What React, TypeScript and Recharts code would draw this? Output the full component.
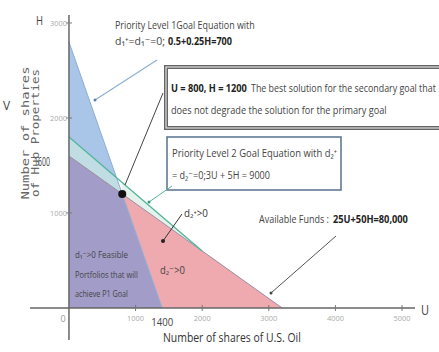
import { useLayoutEffect, useRef, useState } from 'react'
import { Area, ComposedChart, Line, ReferenceDot, ReferenceLine, XAxis, YAxis } from 'recharts'

// region vertices (U, [low H, high H])
const purpleRegion = [
  { U: 0, H: [0, 1600] },
  { U: 800, H: [0, 1200] },
  { U: 1400, H: [0, 0] },
]
const redRegion = [
  { U: 800, H: [1200, 1200] },
  { U: 1400, H: [0, 900] },
  { U: 3200, H: [0, 0] },
]
const blueRegion = [
  { U: 0, H: [1800, 2800] },
  { U: 714, H: [1371, 1371] },
]
const tealBand = [
  { U: 0, H: [1600, 1800] },
  { U: 714, H: [1243, 1371] },
  { U: 800, H: [1200, 1200] },
]
const greenBand = [
  { U: 800, H: [1200, 1320] },
  { U: 2000, H: [600, 600] },
]

// goal / constraint lines
const p1Line = [
  { U: 0, H: 2800 },
  { U: 1400, H: 0 },
]
const fundsLine = [
  { U: 0, H: 1600 },
  { U: 3200, H: 0 },
]
const p2Line = [
  { U: 0, H: 1800 },
  { U: 2000, H: 600 },
]

const xTicks = [1000, 2000, 3000, 4000, 5000]
const yTicks = [1000, 2000, 3000]
const bestU = 800
const bestH = 1200

const font = "'Open Sans', 'DejaVu Sans', sans-serif"

// squeezes a text horizontally to a given width (the picture uses a narrow font)
function Fit({ x, y, w, size = 11, bold = false, fill = '#444', anchor = 'start', children }: any) {
  const ref = useRef<SVGTextElement>(null)
  const [k, setK] = useState(1)
  useLayoutEffect(() => {
    if (ref.current) {
      const n = ref.current.getComputedTextLength()
      if (n > 0) setK(w / n)
    }
  }, [w])
  return (
    <g transform={`translate(${x},${y}) scale(${k},1)`}>
      <text ref={ref} x={0} y={0} fontSize={size} fontWeight={bold ? 'bold' : 'normal'} fill={fill} textAnchor={anchor} fontFamily={font}>
        {children}
      </text>
    </g>
  )
}

const XTick = (label: string) => (p: any) => (
  <g>
    <line x1={p.cx} x2={p.cx} y1={p.cy - 3} y2={p.cy + 3} stroke='#777' />
    <Fit x={p.cx} y={p.cy + 13} w={17} size={8} fill='#aaa' anchor='middle'>
      {label}
    </Fit>
  </g>
)

const YTick = (label: string) => (p: any) => (
  <g>
    <line x1={p.cx - 3} x2={p.cx + 3} y1={p.cy} y2={p.cy} stroke='#777' />
    <Fit x={p.cx - 2} y={p.cy + 3} w={17} size={8} fill='#aaa' anchor='end'>
      {label}
    </Fit>
  </g>
)

export default function App() {
  return (
    <div style={{ position: 'absolute', left: 0, top: 0, width: 439, height: 352, background: '#fff' }}>
      <ComposedChart width={439} height={352} margin={{ top: 15, right: 24, bottom: 12, left: 30 }}>
        <XAxis type='number' dataKey='U' domain={[-585, 5195]} hide allowDataOverflow />
        <YAxis type='number' domain={[-337, 3084]} hide allowDataOverflow />

        <Area data={blueRegion} dataKey='H' type='linear' fill='#a9c5e8' fillOpacity={1} stroke='none' isAnimationActive={false} />
        <Area data={tealBand} dataKey='H' type='linear' fill='#bfdde3' fillOpacity={1} stroke='none' isAnimationActive={false} />
        <Area data={purpleRegion} dataKey='H' type='linear' fill='#a29cc8' fillOpacity={1} stroke='none' isAnimationActive={false} />
        <Area data={redRegion} dataKey='H' type='linear' fill='#eeaaae' fillOpacity={1} stroke='none' isAnimationActive={false} />
        <Area data={greenBand} dataKey='H' type='linear' fill='#e4f2ec' fillOpacity={1} stroke='none' isAnimationActive={false} />

        <Line data={p1Line} dataKey='H' type='linear' stroke='#8eaed6' strokeWidth={1} dot={false} isAnimationActive={false} />
        <Line data={fundsLine} dataKey='H' type='linear' stroke='#9c8a9c' strokeWidth={1} dot={false} isAnimationActive={false} />
        <Line data={p2Line} dataKey='H' type='linear' stroke='#52b59a' strokeWidth={1.3} dot={false} isAnimationActive={false} />

        <ReferenceLine y={0} stroke='#666' strokeWidth={1.5} />
        <ReferenceLine x={0} stroke='#666' strokeWidth={1.5} />

        {xTicks.map((t) => (
          <ReferenceDot key={'x' + t} x={t} y={0} r={0} shape={XTick(String(t))} />
        ))}
        {yTicks.map((t) => (
          <ReferenceDot key={'y' + t} x={0} y={t} r={0} shape={YTick(String(t))} />
        ))}
        <ReferenceDot
          x={0}
          y={0}
          r={0}
          shape={(p: any) => (
            <text x={p.cx - 6} y={p.cy + 14} fontSize={9} fill='#999' fontFamily={font} textAnchor='middle'>
              0
            </text>
          )}
        />
        <ReferenceDot
          x={1400}
          y={0}
          r={0}
          shape={(p: any) => (
            <Fit x={p.cx} y={p.cy + 18} w={22} size={11} fill='#444' anchor='middle'>
              1400
            </Fit>
          )}
        />
        <ReferenceDot
          x={0}
          y={1600}
          r={0}
          shape={(p: any) => (
            <Fit x={p.cx - 19} y={p.cy + 10} w={16} size={12} fill='#444' anchor='end'>
              1600
            </Fit>
          )}
        />
        <ReferenceDot x={bestU} y={bestH} r={4} fill='#111' stroke='none' />
      </ComposedChart>

      <svg width={439} height={352} style={{ position: 'absolute', left: 0, top: 0, pointerEvents: 'none' }} fontFamily={font}>
        <Fit x={36} y={25} w={7} size={13}>H</Fit>
        <Fit x={421} y={315} w={8} size={15}>U</Fit>
        <text x={3} y={110} fontSize={12} fill='#444'>V</text>

        <g transform='translate(29,133) rotate(-90)' fontFamily="'DejaVu Sans Mono', monospace" fontSize={10} fill='#666' textAnchor='middle'>
          <text x={0} y={0} textLength={133} lengthAdjust='spacingAndGlyphs'>Number of shares</text>
          <text x={0} y={10} textLength={128} lengthAdjust='spacingAndGlyphs'>of Hub Properties</text>
        </g>

        <Fit x={163} y={342} w={138} size={12.5} fill='#333'>Number of shares of U.S. Oil</Fit>

        {/* priority 1 note */}
        <Fit x={115} y={29} w={140}>Priority Level 1Goal Equation with</Fit>
        <Fit x={115} y={45} w={50}>d₁⁺=d₁⁻=0;</Fit>
        <Fit x={168} y={45} w={64} bold fill='#222'>0.5+0.25H=700</Fit>
        <line x1={157} y1={60} x2={95} y2={100} stroke='#8eaed6' strokeWidth={1.2} />
        <circle cx={95} cy={100} r={1.5} fill='#5a7fb0' />

        {/* best solution box */}
        <rect x={166} y={67} width={300} height={61} fill='#fff' stroke='#666' strokeWidth={4} />
        <rect x={166} y={67} width={300} height={61} fill='none' stroke='#e0e0e0' strokeWidth={1.2} />
        <Fit x={171} y={92} w={76} bold fill='#222'>U = 800, H = 1200</Fit>
        <Fit x={251} y={92} w={185}>The best solution for the secondary goal that</Fit>
        <Fit x={171} y={114} w={216}>does not degrade the solution for the primary goal</Fit>
        <line x1={163} y1={93} x2={125} y2={185} stroke='#444' strokeWidth={1} />

        {/* priority 2 box */}
        <rect x={167} y={137} width={174} height={53} fill='#fff' stroke='#56708e' strokeWidth={1.5} />
        <Fit x={172} y={157} w={165}>Priority Level 2 Goal Equation with d₂⁺</Fit>
        <Fit x={172} y={179} w={98}>= d₂⁻=0;3U + 5H = 9000</Fit>
        <line x1={172} y1={186} x2={149} y2={202} stroke='#52b59a' strokeWidth={1} />
        <circle cx={149} cy={202} r={1.5} fill='#2f9a72' />

        {/* deviation labels */}
        <Fit x={184} y={217} w={24} size={10} fill='#333'>d₂⁺&gt;0</Fit>
        <line x1={182} y1={214} x2={163} y2={241} stroke='#333' strokeWidth={1} />
        <circle cx={163} cy={241} r={2} fill='#222' />
        <Fit x={160} y={274} w={25} size={10}>d₂⁻&gt;0</Fit>

        <Fit x={75} y={258} w={53} size={9.5}>d₁⁻&gt;0 Feasible</Fit>
        <Fit x={75} y={278} w={63} size={9.5}>Portfolios that will</Fit>
        <Fit x={75} y={297} w={53} size={9.5}>achieve P1 Goal</Fit>

        {/* available funds note */}
        <Fit x={259} y={223} w={70}>Available Funds :</Fit>
        <Fit x={333} y={223} w={75} bold fill='#222'>25U+50H=80,000</Fit>
        <line x1={336} y1={236} x2={271} y2={293} stroke='#555' strokeWidth={1} />
        <circle cx={271} cy={293} r={1.5} fill='#444' />
      </svg>
    </div>
  )
}
